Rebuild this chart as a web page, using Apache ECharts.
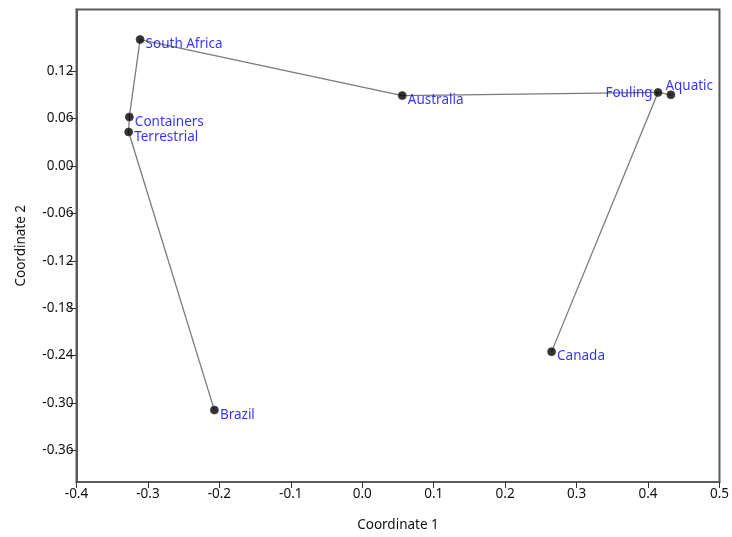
<!DOCTYPE html>
<html>
<head>
  <meta charset="UTF-8">
  <title>Coordinate plot</title>
  <script src="https://cdn.jsdelivr.net/npm/echarts@6/dist/echarts.min.js"></script>
  <style>body{margin:0;background:#fff}</style>
</head>
<body>
  <div id="main" style="width:732px;height:537px"></div>
  <script>
  // points
  const names  = ['South Africa','Containers','Terrestrial','Brazil','Australia','Fouling','Aquatic','Canada'];
  const coord1 = [-0.311, -0.326, -0.327, -0.207, 0.056, 0.414, 0.432, 0.265];
  const coord2 = [0.160, 0.062, 0.043, -0.309, 0.089, 0.093, 0.090, -0.235];
  // tree edges between points
  const edges = [
    ['Brazil','Terrestrial'], ['Terrestrial','Containers'], ['Containers','South Africa'],
    ['South Africa','Australia'], ['Australia','Fouling'], ['Fouling','Aquatic'], ['Fouling','Canada']
  ];
  const xTicks = [-0.4,-0.3,-0.2,-0.1,0.0,0.1,0.2,0.3,0.4,0.5];
  const yTicks = [-0.36,-0.30,-0.24,-0.18,-0.12,-0.06,0.00,0.06,0.12];

  // label placement per point
  const labelPos = {
    'Fouling': {position:'left', offset:[0,1]},
    'Aquatic': {position:'right', offset:[-11,-9]}
  };

  const pt = n => { const i = names.indexOf(n); return [coord1[i], coord2[i]]; };
  const font = '"Noto Sans", sans-serif';

  const chart = echarts.init(document.getElementById('main'));
  chart.setOption({
    animation:false,
    grid:{left:76.5, right:11.5, top:9.5, bottom:53.5, show:true, borderColor:'#5a5a5a', borderWidth:2},
    xAxis:{
      type:'value', min:-0.4, max:0.5, interval:0.1,
      name:'Coordinate 1', nameLocation:'middle', nameGap:36,
      nameTextStyle:{fontFamily:font, fontSize:13.5, color:'#111'},
      axisLine:{show:true, onZero:false, lineStyle:{color:'#5a5a5a', width:2}},
      axisTick:{show:true, length:6, lineStyle:{color:'#333'}, customValues:xTicks},
      axisLabel:{fontFamily:font, fontSize:13.5, color:'#111', margin:5, customValues:xTicks,
        formatter:v => v.toFixed(1)},
      splitLine:{show:false}
    },
    yAxis:{
      type:'value', min:-0.40, max:0.198,
      name:'Coordinate 2', nameLocation:'middle', nameGap:48, nameRotate:90,
      nameTextStyle:{fontFamily:font, fontSize:13.5, color:'#111'},
      axisLine:{show:true, onZero:false, lineStyle:{color:'#5a5a5a', width:2}},
      axisTick:{show:true, length:7, lineStyle:{color:'#333'}, customValues:yTicks},
      axisLabel:{fontFamily:font, fontSize:13.5, color:'#111', margin:3, customValues:yTicks,
        formatter:v => v.toFixed(2)},
      splitLine:{show:false}
    },
    series:[
      {
        type:'lines', coordinateSystem:'cartesian2d', silent:true, z:1,
        lineStyle:{color:'#7a7a7a', width:1.3, opacity:1},
        data:edges.map(e => ({coords:[pt(e[0]), pt(e[1])]}))
      },
      {
        type:'scatter', symbol:'circle', symbolSize:8, z:3,
        itemStyle:{color:'#000', borderColor:'#444', borderWidth:1},
        label:{show:true, position:'right', distance:1, offset:[0,5],
          fontFamily:font, fontSize:13.5, color:'#0000ff',
          formatter:p => p.name},
        data:names.map((n,i) => ({name:n, value:[coord1[i], coord2[i]], label:labelPos[n] || {}}))
      }
    ]
  });
  </script>
</body>
</html>
